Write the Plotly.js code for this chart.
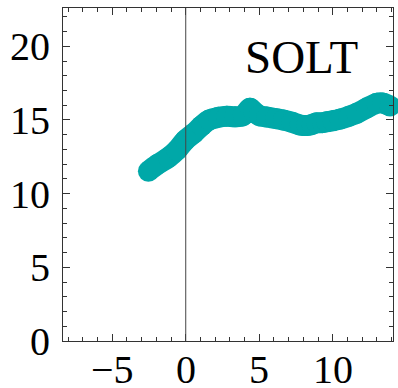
<!DOCTYPE html>
<html><head><meta charset="utf-8">
<script src="https://cdn.plot.ly/plotly-3.0.1.min.js"></script>
<style>html,body{margin:0;padding:0;background:#fff}#c{width:398px;height:388px}</style>
</head><body><div id="c"></div>
<script>
const xs = [-2.54, -1.9, -1.18, -0.6, -0.05, 0.55, 1.09, 1.6, 2.22, 2.8, 3.35, 3.9, 4.37, 4.6, 5.0, 5.51, 6.1, 6.64, 7.2, 7.78, 8.23, 8.6, 8.91, 9.3, 9.59, 10.0, 10.5, 11.1, 11.63, 12.3, 12.99, 13.4, 13.9];
const ys = [11.52, 12.0, 12.45, 12.95, 13.61, 14.1, 14.61, 15.0, 15.18, 15.25, 15.22, 15.3, 15.79, 15.6, 15.3, 15.2, 15.1, 15.0, 14.85, 14.66, 14.62, 14.7, 14.81, 14.82, 14.88, 14.95, 15.06, 15.25, 15.45, 15.8, 16.13, 16.15, 15.95];
const xTicks = [-5, 0, 5, 10];
const yTicks = [0, 5, 10, 15, 20];
const label = "SOLT";
const teal = "rgb(0,168,168)";
const serif = "Liberation Serif, Times New Roman, serif";

const axisBase = {
  showline: true, linecolor: "#333", linewidth: 1, mirror: "allticks",
  ticks: "inside", ticklen: 7, tickcolor: "#333", tickwidth: 1,
  showgrid: false, zeroline: false,
  tickfont: {family: serif, size: 40, color: "#000"},
  minor: {dtick: 1, ticks: "inside", ticklen: 4, tickcolor: "#333", showgrid: false}
};

const data = [{
  x: xs, y: ys, type: "scatter", mode: "lines+markers", cliponaxis: false,
  line: {color: teal, width: 21, shape: "spline"},
  marker: {color: teal, size: 21},
  hoverinfo: "skip"
}];

const fmt = v => v < 0 ? "\u2212" + Math.abs(v) : String(v);
const xLabelAnns = xTicks.map(v => ({
  text: fmt(v), xref: "x", yref: "paper", x: v, y: 0, xanchor: "center", yanchor: "top",
  yshift: -4, showarrow: false, font: {family: serif, size: 40, color: "#000"}
}));

const layout = {
  width: 398, height: 388,
  margin: {l: 63, r: 5, t: 8, b: 47},
  paper_bgcolor: "#fff", plot_bgcolor: "#fff",
  showlegend: false,
  xaxis: Object.assign({}, axisBase, {range: [-8.35, 14.1], tickvals: xTicks, showticklabels: false}),
  yaxis: Object.assign({}, axisBase, {range: [0, 22.6], tickvals: yTicks, ticklabelstandoff: 4}),
  shapes: [{type: "line", xref: "x", yref: "paper", x0: 0, x1: 0, y0: 0, y1: 1, layer: "above", line: {color: "#444", width: 1}}],
  annotations: [{text: label, xref: "x", yref: "y", x: 7.9, y: 17.4, xanchor: "center", yanchor: "bottom", showarrow: false,
    font: {family: serif, size: 47, color: "#000"}}].concat(xLabelAnns)
};
Plotly.newPlot("c", data, layout, {staticPlot: true, displayModeBar: false});
</script></body></html>
